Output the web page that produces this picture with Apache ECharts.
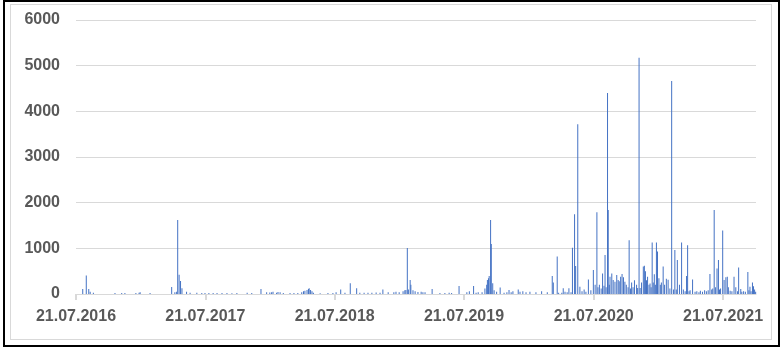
<!DOCTYPE html>
<html>
<head>
<meta charset="utf-8">
<script src="https://cdn.jsdelivr.net/npm/echarts@6/dist/echarts.min.js"></script>
<style>
  html, body { margin: 0; padding: 0; background: #fff; }
  #chart { position: absolute; left: 0; top: 0; width: 781px; height: 348px; }
  .frame { position: absolute; box-sizing: border-box; pointer-events: none; }
  #outer { left: 3px; top: 0; width: 777px; height: 347px; border: 2px solid #000; }
  #inner { left: 10px; top: 4px; width: 762px; height: 336px; border: 1px solid #d9d9d9; }
</style>
</head>
<body>
<div id="chart"></div>
<div id="inner" class="frame"></div>
<div id="outer" class="frame"></div>
<script>
// days counted from 21.07.2016
const tickDays = [0, 365, 730, 1095, 1461, 1826]
const tickLabels = ['21.07.2016', '21.07.2017', '21.07.2018', '21.07.2019', '21.07.2020', '21.07.2021']
const lastDay = 1919

// 2016 - 2017
const days2016 = [19, 29, 36, 40, 49, 110, 129, 138, 169, 178, 181, 209, 270, 279, 284, 287, 291, 295, 299, 312, 322, 341, 355, 364]
const vals2016 = [110, 405, 110, 50, 30, 20, 20, 20, 20, 30, 40, 20, 155, 40, 50, 1620, 420, 285, 125, 50, 30, 30, 20, 20]

// 2017 - 2018
const days2017 = [375, 387, 398, 412, 426, 440, 454, 483, 496, 522, 538, 547, 552, 556, 566, 570, 576, 585, 604, 615, 626, 637, 642, 646, 652, 656, 658, 662, 666, 670, 689, 711, 725]
const vals2017 = [20, 20, 20, 20, 20, 15, 20, 30, 20, 110, 40, 35, 40, 50, 30, 45, 40, 20, 20, 20, 20, 40, 60, 70, 90, 110, 125, 90, 60, 30, 15, 20, 20]

// 2018 - 2019
const days2018 = [734, 747, 759, 774, 792, 801, 813, 824, 835, 847, 858, 866, 881, 897, 903, 912, 923, 928, 931, 935, 938, 943, 945, 951, 957, 965, 974, 979, 985, 1005, 1027, 1041, 1053, 1060, 1081]
const vals2018 = [40, 100, 30, 235, 125, 30, 30, 25, 30, 35, 30, 100, 40, 40, 50, 40, 60, 80, 90, 1005, 100, 305, 200, 80, 60, 45, 50, 40, 40, 110, 20, 20, 30, 20, 175]

// 2019 - 2020
const days2019 = [1103, 1110, 1122, 1129, 1135, 1146, 1154, 1159, 1161, 1164, 1166, 1170, 1172, 1176, 1180, 1187, 1197, 1208, 1216, 1222, 1228, 1233, 1248, 1253, 1261, 1270, 1281, 1298, 1314, 1330, 1344, 1347, 1358, 1362, 1371, 1375, 1380, 1386, 1391, 1397, 1401, 1407, 1410, 1416, 1422, 1428, 1434, 1439, 1446, 1453]
const vals2019 = [40, 60, 175, 30, 40, 40, 120, 200, 305, 345, 395, 1620, 1095, 235, 80, 50, 145, 30, 40, 90, 40, 60, 100, 50, 60, 40, 50, 40, 60, 40, 395, 250, 820, 30, 30, 125, 50, 40, 125, 40, 1015, 1745, 615, 3715, 160, 60, 100, 50, 320, 80]

// 2020 - 2021
const days2020 = [1460, 1465, 1470, 1473, 1477, 1482, 1486, 1490, 1493, 1496, 1500, 1502, 1505, 1507, 1512, 1516, 1521, 1526, 1530, 1533, 1537, 1541, 1545, 1549, 1553, 1558, 1561, 1565, 1568, 1572, 1576, 1582, 1585, 1589, 1592, 1596, 1601, 1604, 1607, 1610, 1613, 1617, 1620, 1623, 1626, 1629, 1632, 1635, 1638, 1641, 1645, 1649, 1652, 1657, 1661, 1666, 1671, 1676, 1681, 1686, 1690, 1694, 1697, 1703, 1709, 1714, 1719, 1723, 1726, 1730, 1733, 1740, 1747, 1752, 1758, 1762, 1768, 1774, 1779, 1784, 1789, 1794, 1797, 1801, 1805, 1809, 1813, 1816, 1819]
const vals2020 = [525, 200, 1790, 150, 200, 120, 450, 180, 855, 150, 4400, 1840, 200, 380, 450, 305, 270, 415, 305, 280, 380, 440, 365, 270, 200, 150, 1175, 120, 250, 150, 300, 200, 130, 5175, 130, 250, 600, 620, 500, 300, 380, 200, 230, 150, 1130, 250, 430, 200, 1130, 930, 345, 200, 250, 600, 200, 335, 310, 120, 4665, 100, 965, 100, 745, 200, 1130, 100, 60, 395, 1070, 60, 80, 320, 50, 60, 40, 70, 50, 80, 60, 80, 440, 100, 120, 1840, 150, 560, 745, 100, 120]

// 2021 -
const days2021 = [1825, 1829, 1834, 1838, 1841, 1846, 1851, 1857, 1862, 1867, 1870, 1876, 1879, 1884, 1889, 1896, 1899, 1902, 1905, 1909, 1912, 1915, 1918]
const vals2021 = [1390, 305, 365, 380, 150, 70, 60, 380, 150, 60, 580, 110, 50, 60, 50, 480, 80, 160, 60, 250, 170, 100, 50]

const days = [].concat(days2016, days2017, days2018, days2019, days2020, days2021)
const vals = [].concat(vals2016, vals2017, vals2018, vals2019, vals2020, vals2021)
const seriesData = days.map((d, i) => [d, vals[i]])

const chart = echarts.init(document.getElementById('chart'))

chart.setOption({
  animation: false,
  grid: {
    left: 76,
    top: 20,
    width: 680,
    height: 274
  },
  xAxis: {
    type: 'value',
    min: 0,
    max: lastDay,
    splitLine: { show: false },
    axisLine: { show: true, lineStyle: { color: '#d9d9d9', width: 1 } },
    axisTick: {
      show: true,
      customValues: tickDays,
      length: 6,
      lineStyle: { color: '#d9d9d9', width: 2 }
    },
    axisLabel: {
      customValues: tickDays,
      formatter: (v) => tickLabels[tickDays.indexOf(v)],
      margin: 15,
      color: '#595959',
      fontFamily: 'Liberation Sans',
      fontWeight: 'bold',
      fontSize: 16
    }
  },
  yAxis: {
    type: 'value',
    min: 0,
    max: 6000,
    interval: 1000,
    axisLine: { show: false },
    axisTick: { show: false },
    splitLine: { lineStyle: { color: '#d9d9d9', width: 1 } },
    axisLabel: {
      formatter: (v) => String(v),
      margin: 16,
      color: '#595959',
      fontFamily: 'Liberation Sans',
      fontWeight: 'bold',
      fontSize: 16
    }
  },
  series: [
    {
      type: 'bar',
      data: seriesData,
      barWidth: 1,
      itemStyle: { color: '#4472c4' }
    }
  ]
})
</script>
</body>
</html>
